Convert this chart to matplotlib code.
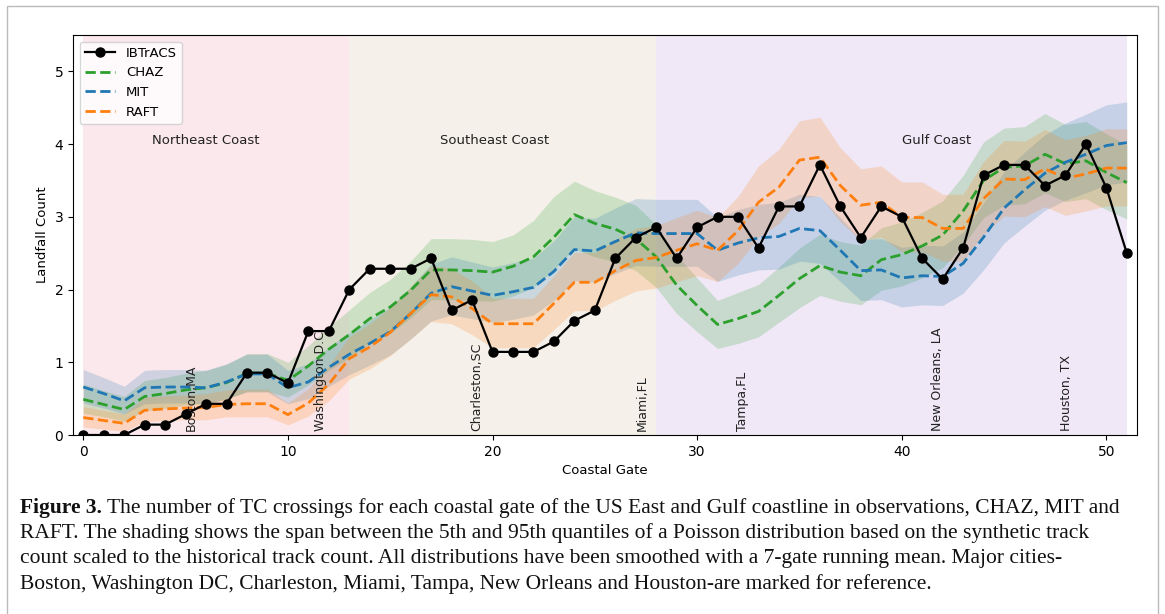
import numpy as np
import matplotlib
matplotlib.use("Agg")
import matplotlib.pyplot as plt
from matplotlib.patches import Rectangle

gates = np.arange(52)

ibtracs = [0.0, 0.0, 0.0, 0.143, 0.143, 0.286, 0.429, 0.429, 0.857, 0.857,
           0.714, 1.429, 1.429, 2.0, 2.286, 2.286, 2.286, 2.429, 1.714, 1.857,
           1.143, 1.143, 1.143, 1.286, 1.571, 1.714, 2.429, 2.714, 2.857, 2.429,
           2.857, 3.0, 3.0, 2.571, 3.143, 3.143, 3.714, 3.143, 2.714, 3.143,
           3.0, 2.429, 2.143, 2.571, 3.571, 3.714, 3.714, 3.429, 3.571, 4.0,
           3.4, 2.5]

chaz = [0.49, 0.42, 0.35, 0.53, 0.57, 0.62, 0.65, 0.72, 0.85, 0.85,
        0.75, 0.95, 1.18, 1.38, 1.60, 1.76, 1.99, 2.27, 2.27, 2.26,
        2.24, 2.32, 2.45, 2.72, 3.03, 2.91, 2.83, 2.70, 2.45, 2.06,
        1.78, 1.52, 1.60, 1.70, 1.92, 2.15, 2.33, 2.24, 2.19, 2.41,
        2.48, 2.60, 2.75, 3.08, 3.50, 3.68, 3.70, 3.86, 3.73, 3.77,
        3.61, 3.47]
chaz_lo = [0.30, 0.25, 0.19, 0.33, 0.37, 0.41, 0.43, 0.49, 0.60, 0.60,
           0.52, 0.69, 0.89, 1.06, 1.26, 1.40, 1.61, 1.86, 1.86, 1.85,
           1.84, 1.91, 2.03, 2.27, 2.56, 2.45, 2.38, 2.26, 2.03, 1.67,
           1.42, 1.19, 1.26, 1.35, 1.55, 1.75, 1.92, 1.84, 1.79, 1.99,
           2.05, 2.16, 2.30, 2.61, 2.99, 3.16, 3.18, 3.33, 3.21, 3.25,
           3.10, 2.97]
chaz_hi = [0.70, 0.61, 0.53, 0.75, 0.79, 0.85, 0.89, 0.97, 1.12, 1.12,
           1.00, 1.23, 1.49, 1.72, 1.96, 2.14, 2.39, 2.70, 2.70, 2.69,
           2.66, 2.75, 2.95, 3.28, 3.49, 3.36, 3.27, 3.16, 2.89, 2.47,
           2.16, 1.85, 1.96, 2.07, 2.31, 2.57, 2.76, 2.66, 2.61, 2.85,
           2.93, 3.06, 3.22, 3.57, 4.03, 4.22, 4.24, 4.42, 4.27, 4.31,
           4.14, 3.99]

mit = [0.66, 0.57, 0.47, 0.65, 0.66, 0.66, 0.65, 0.73, 0.84, 0.84,
       0.65, 0.73, 0.93, 1.11, 1.26, 1.42, 1.67, 1.95, 2.04, 1.98,
       1.92, 1.97, 2.03, 2.25, 2.55, 2.53, 2.66, 2.78, 2.77, 2.77,
       2.77, 2.54, 2.64, 2.71, 2.73, 2.84, 2.81, 2.54, 2.26, 2.27,
       2.16, 2.19, 2.18, 2.36, 2.72, 3.12, 3.37, 3.60, 3.75, 3.86,
       3.98, 4.02]
mit_lo = [0.44, 0.37, 0.29, 0.43, 0.44, 0.44, 0.43, 0.50, 0.59, 0.59,
          0.43, 0.50, 0.67, 0.83, 0.96, 1.10, 1.32, 1.57, 1.65, 1.60,
          1.55, 1.59, 1.65, 1.85, 2.12, 2.10, 2.22, 2.33, 2.32, 2.32,
          2.32, 2.11, 2.20, 2.27, 2.28, 2.39, 2.36, 2.11, 1.85, 1.86,
          1.76, 1.79, 1.78, 1.95, 2.27, 2.64, 2.87, 3.09, 3.23, 3.33,
          3.44, 3.48]
mit_hi = [0.90, 0.79, 0.67, 0.89, 0.90, 0.90, 0.89, 0.98, 1.11, 1.11,
          0.89, 0.98, 1.21, 1.41, 1.58, 1.76, 2.04, 2.35, 2.45, 2.38,
          2.31, 2.37, 2.43, 2.67, 3.00, 2.98, 3.12, 3.25, 3.24, 3.24,
          3.24, 2.99, 3.10, 3.17, 3.20, 3.31, 3.28, 2.99, 2.69, 2.70,
          2.58, 2.61, 2.60, 2.79, 3.19, 3.62, 3.89, 4.13, 4.29, 4.41,
          4.54, 4.58]

raft = [0.24, 0.20, 0.16, 0.34, 0.36, 0.37, 0.38, 0.42, 0.43, 0.43,
        0.28, 0.44, 0.70, 1.05, 1.21, 1.41, 1.67, 1.93, 1.90, 1.74,
        1.53, 1.53, 1.53, 1.81, 2.10, 2.10, 2.26, 2.40, 2.44, 2.54,
        2.63, 2.54, 2.81, 3.20, 3.41, 3.78, 3.82, 3.43, 3.16, 3.20,
        2.99, 2.99, 2.84, 2.84, 3.25, 3.52, 3.51, 3.66, 3.53, 3.59,
        3.67, 3.67]
raft_lo = [0.11, 0.08, 0.05, 0.18, 0.20, 0.21, 0.21, 0.25, 0.25, 0.25,
           0.14, 0.26, 0.47, 0.77, 0.91, 1.09, 1.32, 1.56, 1.53, 1.38,
           1.20, 1.20, 1.20, 1.45, 1.71, 1.71, 1.85, 1.98, 2.02, 2.11,
           2.19, 2.11, 2.36, 2.72, 2.91, 3.26, 3.29, 2.93, 2.68, 2.72,
           2.52, 2.52, 2.39, 2.39, 2.76, 3.01, 3.00, 3.14, 3.02, 3.08,
           3.15, 3.15]
raft_hi = [0.39, 0.34, 0.29, 0.52, 0.54, 0.55, 0.57, 0.62, 0.63, 0.63,
           0.44, 0.64, 0.95, 1.35, 1.53, 1.75, 2.04, 2.33, 2.29, 2.12,
           1.88, 1.88, 1.88, 2.19, 2.51, 2.51, 2.69, 2.84, 2.88, 2.99,
           3.09, 2.99, 3.28, 3.70, 3.93, 4.32, 4.37, 3.95, 3.66, 3.70,
           3.48, 3.48, 3.31, 3.31, 3.76, 4.05, 4.04, 4.20, 4.06, 4.12,
           4.21, 4.21]

regions = ["Northeast Coast", "Southeast Coast", "Gulf Coast"]
region_edges = [(0, 13), (13, 28), (28, 51)]
region_label_x = [6.0, 20.1, 41.7]
region_colors = ["#fbe8ec", "#f5f0ea", "#f0e8f6"]

cities = ["Boston,MA", "Washington D.C", "Charleston,SC", "Miami,FL",
          "Tampa,FL", "New Orleans, LA", "Houston, TX"]
city_x = [5.3, 11.6, 19.25, 27.3, 32.2, 41.75, 48.06]

caption_lines = [
    "The number of TC crossings for each coastal gate of the US East and Gulf coastline in observations, CHAZ, MIT and",
    "RAFT. The shading shows the span between the 5th and 95th quantiles of a Poisson distribution based on the synthetic track",
    "count scaled to the historical track count. All distributions have been smoothed with a 7-gate running mean. Major cities-",
    "Boston, Washington DC, Charleston, Miami, Tampa, New Orleans and Houston-are marked for reference.",
]

fig = plt.figure(figsize=(11.65, 6.14), dpi=100)
ax = fig.add_axes([0.0627, 0.2915, 0.9133, 0.6515])

for (a, b), c in zip(region_edges, region_colors):
    ax.axvspan(a, b, color=c, lw=0, zorder=0)

ax.fill_between(gates, chaz_lo, chaz_hi, color="#2ca02c", alpha=0.2, lw=0)
ax.fill_between(gates, mit_lo, mit_hi, color="#1f77b4", alpha=0.2, lw=0)
ax.fill_between(gates, raft_lo, raft_hi, color="#ff7f0e", alpha=0.2, lw=0)

ax.plot(gates, ibtracs, "-o", color="black", lw=1.6, ms=6.5, label="IBTrACS", zorder=5)
ax.plot(gates, chaz, "--", color="#2ca02c", lw=2, label="CHAZ")
ax.plot(gates, mit, "--", color="#1f77b4", lw=2, label="MIT")
ax.plot(gates, raft, "--", color="#ff7f0e", lw=2, label="RAFT")

for name, x in zip(regions, region_label_x):
    ax.text(x, 4.05, name, ha="center", va="center", fontsize=9.5, color="#222222")

for name, x in zip(cities, city_x):
    ax.text(x, 0.05, name, rotation=90, ha="center", va="bottom", fontsize=9, color="#222222")

ax.set_xlim(-0.5, 51.5)
ax.set_ylim(0, 5.5)
ax.set_xticks([0, 10, 20, 30, 40, 50])
ax.set_yticks([0, 1, 2, 3, 4, 5])
ax.tick_params(labelsize=10)
ax.set_xlabel("Coastal Gate", fontsize=9.5)
ax.set_ylabel("Landfall Count", fontsize=9.5)
ax.legend(loc="upper left", fontsize=9.5, framealpha=0.8, handlelength=2.3)

# caption under the plot, one text per line so the breaks stay put
cap_font = dict(family="Liberation Serif", fontsize=15.5, color="#111111")
y0 = 1 - 508 / 614
dy = 25.3 / 614
t1 = fig.text(20 / 1165, y0, "Figure 3.", fontweight="bold", va="center", **cap_font)
ax.annotate(" " + caption_lines[0], xy=(1, 0), xycoords=t1, va="bottom", ha="left",
            annotation_clip=False, **cap_font)
for i, line in enumerate(caption_lines[1:], start=1):
    fig.text(20 / 1165, y0 - i * dy, line, va="center", **cap_font)

fig.patches.append(Rectangle((7 / 1165, -0.01), 1151 / 1165, 1.0, transform=fig.transFigure,
                             fill=False, edgecolor="#bbbbbb", lw=1))

fig.savefig("out.png", dpi=100)
